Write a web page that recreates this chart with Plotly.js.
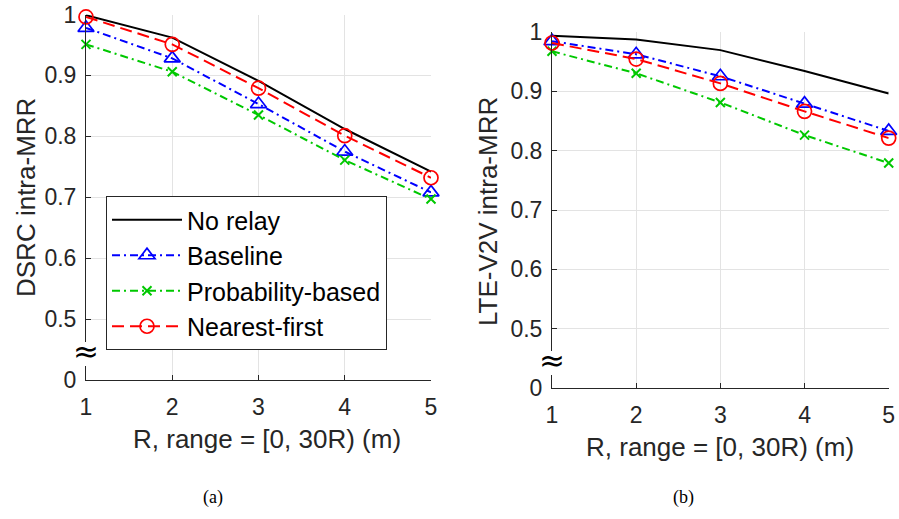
<!DOCTYPE html>
<html>
<head>
<meta charset="utf-8">
<script src="https://cdn.plot.ly/plotly-3.0.1.min.js"></script>
<style>html,body{margin:0;padding:0;background:#fff;}#chart{width:899px;height:519px;}</style>
</head>
<body>
<div id="chart"></div>
<script>
// ---- data ----
const R = [1, 2, 3, 4, 5];
const seriesNames = ["No relay", "Baseline", "Probability-based", "Nearest-first"];
// (a) DSRC intra-MRR
const dsrcNoRelay   = [0.999, 0.962, 0.891, 0.812, 0.742];
const dsrcBaseline  = [0.978, 0.928, 0.853, 0.775, 0.708];
const dsrcProb      = [0.951, 0.906, 0.835, 0.761, 0.697];
const dsrcNearest   = [0.996, 0.951, 0.879, 0.801, 0.732];
// (b) LTE-V2V intra-MRR
const lteNoRelay    = [0.993, 0.987, 0.969, 0.934, 0.896];
const lteBaseline   = [0.984, 0.962, 0.925, 0.879, 0.833];
const lteProb       = [0.967, 0.930, 0.881, 0.826, 0.779];
const lteNearest    = [0.981, 0.954, 0.913, 0.866, 0.821];
// axis ticks (break: bottom tick stands for 0)
const yTickVals = [0.4, 0.5, 0.6, 0.7, 0.8, 0.9, 1.0];
const yTickText = ["0", "0.5", "0.6", "0.7", "0.8", "0.9", "1"];
const xTickVals = [1, 2, 3, 4, 5];
const xTitle = "R, range = [0, 30R) (m)";
const yTitleA = "DSRC intra-MRR";
const yTitleB = "LTE-V2V intra-MRR";
const captions = ["(a)", "(b)"];

// ---- styles ----
const styles = [
  {color: "#000000", dash: "solid", symbol: "circle", size: 0, mw: 0},
  {color: "#0000ff", dash: "8px,4px,2px,4px", symbol: "triangle-up-open", size: 14, mw: 1.7},
  {color: "#00c800", dash: "8px,4px,2px,4px", symbol: "x-thin-open", size: 9, mw: 2},
  {color: "#ff0000", dash: "12px,6px", symbol: "circle-open", size: 14, mw: 1.7}
];

function mk(y, i, xa, ya, showlegend) {
  const s = styles[i];
  return {
    x: R, y: y, xaxis: xa, yaxis: ya, name: seriesNames[i],
    type: "scatter", mode: i === 0 ? "lines" : "lines+markers",
    line: {color: s.color, width: 2, dash: s.dash},
    marker: {symbol: s.symbol, size: s.size, color: s.color, line: {color: s.color, width: s.mw}},
    showlegend: showlegend, cliponaxis: false
  };
}

const dataA = [dsrcNoRelay, dsrcBaseline, dsrcProb, dsrcNearest];
const dataB = [lteNoRelay, lteBaseline, lteProb, lteNearest];
const traces = [];
dataA.forEach((y, i) => traces.push(mk(y, i, "x", "y", true)));
dataB.forEach((y, i) => traces.push(mk(y, i, "x2", "y2", false)));

const W = 899, H = 519;
const tickFont = {family: "Liberation Sans, Arial, sans-serif", size: 23, color: "#262626"};
function xax(dom, anchor) {
  return {domain: dom, anchor: anchor, range: [1, 5], tickvals: xTickVals, ticks: "inside", ticklen: 5,
    tickcolor: "#262626", showline: true, linecolor: "#262626", linewidth: 1, showgrid: true,
    gridcolor: "#e3e3e3", gridwidth: 1, zeroline: false, tickfont: tickFont, ticklabelstandoff: 6,
    fixedrange: true};
}
function yax(dom, anchor) {
  return {domain: dom, anchor: anchor, range: [0.4, 1.0], tickvals: yTickVals, ticktext: yTickText,
    ticks: "inside", ticklen: 5, tickcolor: "#262626", showline: true, linecolor: "#262626", linewidth: 1,
    showgrid: true, gridcolor: "#e3e3e3", gridwidth: 1, zeroline: false, tickfont: tickFont,
    ticklabelstandoff: 4, fixedrange: true};
}
const axA = {x0: 86, x1: 431, yTop: 14.5, yBot: 380};
const axB = {x0: 552, x1: 888.7, yTop: 31.7, yBot: 388.3};
const px = v => v / W, py = v => 1 - v / H;

const titleFont = {family: "Liberation Sans, Arial, sans-serif", size: 26, color: "#262626"};
const capFont = {family: "Liberation Serif, Times New Roman, serif", size: 18, color: "#000"};
const approxFont = {family: "DejaVu Sans, sans-serif", size: 31, color: "#000"};

// white masks that break the y-axis lines behind the "≈" marks
function mask(x, y0, y1) {
  return {type: "rect", xref: "paper", yref: "paper", layer: "above",
    x0: px(x - 3), x1: px(x + 3), y0: py(y1), y1: py(y0),
    fillcolor: "#fff", line: {width: 0}};
}

const layout = {
  width: W, height: H, margin: {l: 0, r: 0, t: 0, b: 0},
  paper_bgcolor: "#fff", plot_bgcolor: "#fff",
  xaxis: xax([px(axA.x0), px(axA.x1)], "y"),
  yaxis: yax([py(axA.yBot), py(axA.yTop)], "x"),
  xaxis2: xax([px(axB.x0), px(axB.x1)], "y2"),
  yaxis2: yax([py(axB.yBot), py(axB.yTop)], "x2"),
  showlegend: true,
  legend: {x: px(106), y: py(196), xanchor: "left", yanchor: "top", bgcolor: "#fff",
    bordercolor: "#262626", borderwidth: 1, font: {family: "Liberation Sans, Arial, sans-serif", size: 25, color: "#000"},
    itemwidth: 70, tracegroupgap: 0},
  shapes: [mask(86, 342, 366), mask(552, 351, 375)],
  annotations: [
    {xref: "paper", yref: "paper", x: px(267), y: py(439), text: xTitle, showarrow: false, font: titleFont, xanchor: "center", yanchor: "middle"},
    {xref: "paper", yref: "paper", x: px(720), y: py(447), text: xTitle, showarrow: false, font: titleFont, xanchor: "center", yanchor: "middle"},
    {xref: "paper", yref: "paper", x: px(26), y: py(198), text: yTitleA, textangle: -90, showarrow: false, font: titleFont, xanchor: "center", yanchor: "middle"},
    {xref: "paper", yref: "paper", x: px(488), y: py(212), text: yTitleB, textangle: -90, showarrow: false, font: titleFont, xanchor: "center", yanchor: "middle"},
    {xref: "paper", yref: "paper", x: px(213), y: py(497), text: captions[0], showarrow: false, font: capFont, xanchor: "center", yanchor: "middle"},
    {xref: "paper", yref: "paper", x: px(683), y: py(497), text: captions[1], showarrow: false, font: capFont, xanchor: "center", yanchor: "middle"},
    {xref: "paper", yref: "paper", x: px(86), y: py(351), text: "≈", showarrow: false, font: approxFont, xanchor: "center", yanchor: "middle"},
    {xref: "paper", yref: "paper", x: px(552), y: py(360), text: "≈", showarrow: false, font: approxFont, xanchor: "center", yanchor: "middle"}
  ]
};

Plotly.newPlot("chart", traces, layout, {displayModeBar: false, staticPlot: true});
</script>
</body>
</html>
